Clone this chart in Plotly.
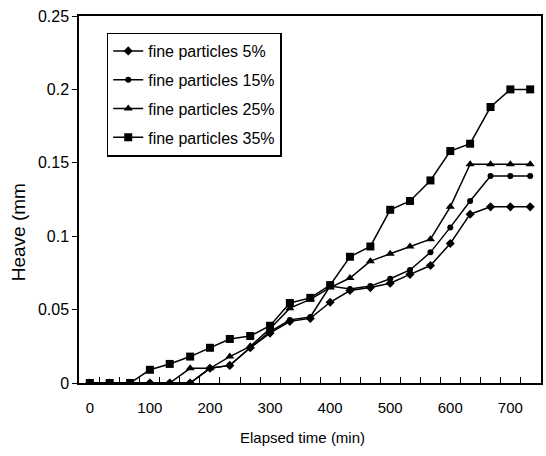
import plotly.graph_objects as go

time_min = [0, 33, 67, 100, 133, 167, 200, 233, 267, 300, 333, 367, 400, 433, 467, 500, 533, 567, 600, 633, 667, 700, 733]
fines_5 = [0, 0, 0, 0, 0, 0, 0.01, 0.012, 0.024, 0.034, 0.042, 0.044, 0.055, 0.063, 0.065, 0.068, 0.074, 0.080, 0.095, 0.115, 0.12, 0.12, 0.12]
fines_15 = [0, 0, 0, 0, 0, 0, 0.01, 0.012, 0.024, 0.035, 0.043, 0.045, 0.066, 0.064, 0.066, 0.071, 0.077, 0.089, 0.106, 0.124, 0.141, 0.141, 0.141]
fines_25 = [0, 0, 0, 0, 0, 0.01, 0.01, 0.018, 0.025, 0.037, 0.051, 0.057, 0.065, 0.0715, 0.083, 0.088, 0.093, 0.098, 0.12, 0.149, 0.149, 0.149, 0.149]
fines_35 = [0, 0, 0, 0.009, 0.013, 0.018, 0.024, 0.03, 0.032, 0.039, 0.0545, 0.058, 0.0667, 0.086, 0.093, 0.118, 0.124, 0.138, 0.158, 0.163, 0.188, 0.2, 0.2]

series_names = ["fine particles 5%", "fine particles 15%", "fine particles 25%", "fine particles 35%"]
x_tick_vals = [0, 100, 200, 300, 400, 500, 600, 700]
x_tick_text = ["0", "100", "200", "300", "400", "500", "600", "700"]
y_tick_vals = [0, 0.05, 0.1, 0.15, 0.2, 0.25]
y_tick_text = ["0", "0.05", "0.1", "0.15", "0.2", "0.25"]
minor_x = [16.7 + 33.33 * k for k in range(22)]

FONT = "Liberation Sans, Arial"
fig = go.Figure()
styles = [("diamond", 7), ("circle", 6), ("triangle-up", 8), ("square", 8)]
for i, (name, ys, (sym, sz)) in enumerate(zip(series_names, [fines_5, fines_15, fines_25, fines_35], styles)):
    fig.add_trace(go.Scatter(x=time_min, y=ys, name=name, mode="lines+markers", legendgroup=f"g{i}",
                             line=dict(color="black", width=1.5),
                             marker=dict(symbol=sym, size=sz, color="black")))

fig.update_layout(
    width=546, height=456,
    margin=dict(l=79, r=3, t=16, b=73),
    paper_bgcolor="white", plot_bgcolor="white",
    font=dict(family=FONT, size=15, color="black"),
    showlegend=True,
    legend=dict(x=0.06, y=0.955, xanchor="left", yanchor="top",
                bordercolor="black", borderwidth=1.5, bgcolor="white",
                font=dict(size=16), itemwidth=30, tracegroupgap=5),
    xaxis=dict(range=[-18, 751], tickmode="array", tickvals=x_tick_vals, ticktext=x_tick_text,
               ticks="", showgrid=False, zeroline=False, showline=True, linecolor="black",
               linewidth=1.5, mirror=True, ticklabelstandoff=10,
               minor=dict(tickmode="array", tickvals=minor_x, ticks="inside", ticklen=6,
                          tickcolor="black", tickwidth=1, showgrid=False)),
    yaxis=dict(range=[0, 0.25], tickmode="array", tickvals=y_tick_vals, ticktext=y_tick_text,
               ticks="outside", ticklen=5, tickcolor="black", showgrid=False, zeroline=False,
               showline=True, linecolor="black", linewidth=1.5, mirror=True, tickfont=dict(size=16)),
)
fig.add_annotation(text="Heave (mm", x=(18 - 79) / 464, y=(383 - 232) / 367, xref="paper", yref="paper",
                   showarrow=False, textangle=-90, xanchor="center", yanchor="middle",
                   font=dict(size=19, family=FONT))
fig.add_annotation(text="Elapsed time (min)", x=(303 - 79) / 464, y=(383 - 438) / 367, xref="paper", yref="paper",
                   showarrow=False, xanchor="center", yanchor="middle", font=dict(size=15, family=FONT))
fig.write_html("out.html")
